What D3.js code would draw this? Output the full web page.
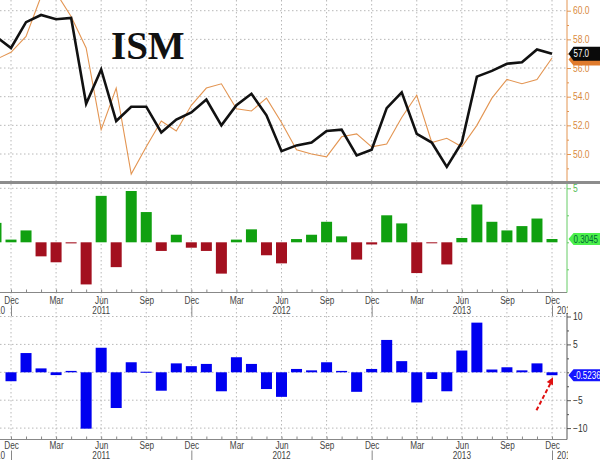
<!DOCTYPE html>
<html><head><meta charset="utf-8">
<script src="https://cdn.jsdelivr.net/npm/d3@7"></script>
<style>body{margin:0;background:#fff}svg{display:block}</style>
</head><body>
<script>
const months = ["2010-11","2010-12",
 "2011-01","2011-02","2011-03","2011-04","2011-05","2011-06","2011-07","2011-08","2011-09","2011-10","2011-11","2011-12",
 "2012-01","2012-02","2012-03","2012-04","2012-05","2012-06","2012-07","2012-08","2012-09","2012-10","2012-11","2012-12",
 "2013-01","2013-02","2013-03","2013-04","2013-05","2013-06","2013-07","2013-08","2013-09","2013-10","2013-11","2013-12"];
const ismValues = [58.2,57.4,
 59.2,59.7,59.4,59.5,53.5,55.9,52.3,53.3,53.3,51.5,52.4,52.9,
 53.8,52.0,53.4,54.2,52.7,50.2,50.6,50.8,51.6,51.7,49.9,50.3,
 53.2,54.3,51.4,50.8,49.1,50.8,55.4,55.8,56.3,56.4,57.3,57.0];
const compareValues = [56.6,57.1,
 58.2,61.0,61.25,59.6,57.4,51.7,54.6,48.6,50.5,52.3,51.6,53.4,
 54.6,54.9,53.15,53.0,53.9,52.2,50.3,50.0,49.8,51.2,51.4,50.5,
 50.7,52.55,54.1,50.8,51.1,50.5,52.0,53.9,55.2,54.9,55.2,56.7];
const spreadValues = [1.8,0.25,
 1.1,-1.3,-1.85,-0.1,-3.9,4.3,-2.3,4.75,2.8,-0.8,0.7,-0.5,
 -0.8,-2.9,0.25,1.2,-1.2,-1.95,0.3,0.7,1.9,0.55,-1.6,-0.2,
 2.5,1.75,-2.85,-0.05,-2.05,0.4,3.5,1.9,1.1,1.5,2.2,0.3045];
const changeValues = [null,-1.6,
 3.45,0.7,-0.5,0.25,-10.1,4.4,-6.4,1.8,0.1,-3.3,1.6,1.1,
 1.5,-3.4,2.7,1.5,-3.0,-4.4,0.6,0.35,1.8,0.25,-3.5,0.6,
 5.8,2.0,-5.4,-1.2,-3.4,3.9,8.9,0.5,0.9,0.35,1.6,-0.5236];
const topTicks = [50,52,54,56,58,60];
const topMinor = [49,51,53,55,57,59];
const midTicks = [5];
const midMinor = [-2.5,0,2.5];
const botTicks = [10,5,-5,-10];
const botMinor = [-7.5,-2.5,0,2.5,7.5];
const monthNames = ["Jan","Feb","Mar","Apr","May","Jun","Jul","Aug","Sep","Oct","Nov","Dec"];
const yearLabels = [{year:"2010", at:"2010-06"},{year:"2011", at:"2011-06"},{year:"2012", at:"2012-06"},{year:"2013", at:"2013-06"},{year:"2014", at:"2014-06"}];
const titleText = "ISM";
const lastTop = "57.0", lastTopCompare = 56.7, lastMid = "0.3045", lastBot = "-0.5236";

const W = 600, H = 460, RX = 567;
const FONT = "'Liberation Sans Narrow','Liberation Sans',sans-serif";
const svg = d3.select("body").append("svg").attr("width", W).attr("height", H)
  .style("font-family", FONT);

function condense(sel, f) {
  sel.each(function () {
    const w = this.getComputedTextLength();
    d3.select(this).attr("textLength", w * f).attr("lengthAdjust", "spacingAndGlyphs");
  });
}

const idx = m => { const [y, mo] = m.split("-").map(Number); return (y - 2010) * 12 + mo - 12; }; // Dec 2010 -> 0
const data = months.map((m, i) => ({m, k: idx(m), ism: ismValues[i], cmp: compareValues[i], spr: spreadValues[i], chg: changeValues[i]}));
const x = d3.scaleLinear().domain([0, 36]).range([11, 552]);

const yTop = d3.scaleLinear().domain([50, 60]).range([154, 10.7]);
const yMid = d3.scaleLinear().domain([0, 5]).range([242.3, 188.3]);
const yBot = d3.scaleLinear().domain([0, 10]).range([372.3, 316.5]);

const defs = svg.append("defs");
defs.append("clipPath").attr("id","cTop").append("rect").attr("x",0).attr("y",0).attr("width",RX).attr("height",181);
defs.append("clipPath").attr("id","cMid").append("rect").attr("x",0).attr("y",184).attr("width",RX).attr("height",108.5);
defs.append("clipPath").attr("id","cBot").append("rect").attr("x",0).attr("y",313).attr("width",RX).attr("height",126.5);
defs.append("clipPath").attr("id","cYear").append("rect").attr("x",0).attr("y",0).attr("width",RX+1).attr("height",H);

const dot = "1.5,2.5", gridCol = "#b8b8b8";
const quarterKs = d3.range(-3, 40).filter(k => ((k % 3) + 3) % 3 === 0 && x(k) >= 0 && x(k) <= RX);
svg.append("g").selectAll("line").data(quarterKs).join("line")
  .attr("x1", d => x(d)).attr("x2", d => x(d)).attr("y1", 0).attr("y2", 440)
  .attr("stroke", gridCol).attr("stroke-dasharray", dot);
const hgrid = (vals, ys) => svg.append("g").selectAll("line").data(vals).join("line")
  .attr("x1", 0).attr("x2", RX).attr("y1", d => ys(d)).attr("y2", d => ys(d))
  .attr("stroke", gridCol).attr("stroke-dasharray", dot);
hgrid(topTicks, yTop); hgrid([5], yMid); hgrid([10,5,0,-5,-10], yBot);

svg.append("text").attr("x", 111).attr("y", 59).text(titleText)
  .style("font-family","'Liberation Serif','Times New Roman',serif").style("font-weight","bold").style("font-size","39px").attr("fill","#111");

const gTop = svg.append("g").attr("clip-path","url(#cTop)");
gTop.append("path").datum(data).attr("fill","none").attr("stroke","#e39552").attr("stroke-width",1.1)
  .attr("d", d3.line().x(d => x(d.k)).y(d => yTop(d.cmp)));
gTop.append("path").datum(data).attr("fill","none").attr("stroke","#111").attr("stroke-width",2.6).attr("stroke-linejoin","miter")
  .attr("d", d3.line().x(d => x(d.k)).y(d => yTop(d.ism)));

svg.append("rect").attr("x",0).attr("y",181).attr("width",W).attr("height",3).attr("fill","#8c8c8c");

const bw = 11;
svg.append("g").attr("clip-path","url(#cMid)").selectAll("rect").data(data).join("rect")
  .attr("x", d => x(d.k) - bw/2).attr("width", bw)
  .attr("y", d => yMid(Math.max(0, d.spr))).attr("height", d => Math.max(1, Math.abs(yMid(d.spr) - yMid(0))))
  .attr("fill", d => d.spr >= 0 ? "#10a010" : "#a3101f");

svg.append("g").attr("clip-path","url(#cBot)").selectAll("rect").data(data.filter(d => d.chg !== null)).join("rect")
  .attr("x", d => x(d.k) - bw/2).attr("width", bw)
  .attr("y", d => yBot(Math.max(0, d.chg))).attr("height", d => Math.max(1, Math.abs(yBot(d.chg) - yBot(0))))
  .attr("fill", "#0000f0");

function xAxis(yLine, yLab) {
  const allKs = d3.range(-1, 38).filter(k => x(k) >= 0 && x(k) <= RX);
  const g = svg.append("g").attr("transform", `translate(0,${yLine})`);
  g.call(d3.axisBottom(x).tickValues(allKs).tickSize(-3).tickSizeOuter(0).tickFormat(""));
  g.select(".domain").attr("stroke","#888").attr("d", `M0,0H${RX}`);
  g.selectAll(".tick line").attr("stroke","#888");
  const lab = svg.append("g").attr("transform", `translate(0,${yLab})`);
  lab.call(d3.axisBottom(x).tickValues(quarterKs).tickSize(0).tickFormat(k => monthNames[((k + 11) % 12 + 12) % 12]));
  lab.select(".domain").remove();
  lab.selectAll("text").attr("dy", 0).attr("y", 0).style("font-size","10px").style("font-family",FONT).attr("fill","#444");
  condense(lab.selectAll("text"), 0.82);
  const yg = svg.append("g").attr("clip-path","url(#cYear)");
  yearLabels.forEach(yl => {
    const k = idx(yl.at);
    let px = x(k), anchor = "middle";
    if (px < 0) { px = x(0) - 6; anchor = "end"; }
    if (px > RX) { px = x(36) + 5; anchor = "start"; }
    const t = yg.append("text").attr("x", px).attr("y", yLab + 10).attr("text-anchor", anchor)
      .style("font-size","10px").attr("fill","#444").text(yl.year);
    condense(t, 0.82);
  });
  [0, 12, 24, 36].forEach(k => svg.append("line").attr("x1", x(k)+0.5).attr("x2", x(k)+0.5)
    .attr("y1", yLab + 2).attr("y2", yLab + 12.5).attr("stroke","#888"));
}
xAxis(292.5, 303.5);
xAxis(439.5, 448.5);

function rightAxis(ys, major, minor, color, fmt, y0, y1, labCol) {
  svg.append("line").attr("x1", RX).attr("x2", RX).attr("y1", y0).attr("y2", y1).attr("stroke", color);
  const g = svg.append("g").attr("transform", `translate(${RX},0)`);
  g.call(d3.axisRight(ys).tickValues(major).tickSize(4).tickPadding(2).tickFormat(fmt));
  g.select(".domain").remove();
  g.selectAll(".tick line").attr("stroke", color);
  g.selectAll("text").style("font-size","10px").style("font-family",FONT).attr("fill", labCol);
  condense(g.selectAll("text"), 0.85);
  const m = svg.append("g").attr("transform", `translate(${RX},0)`);
  m.call(d3.axisRight(ys).tickValues(minor).tickSize(2).tickFormat(""));
  m.select(".domain").remove();
  m.selectAll(".tick line").attr("stroke", color);
}
rightAxis(yTop, topTicks, topMinor, "#e39552", d3.format(".1f"), 0, 181, "#d98a40");
rightAxis(yMid, midTicks, midMinor, "#6c6", d3.format("d"), 184, 292.5, "#5b5");
rightAxis(yBot, botTicks, botMinor, "#555", d3.format("d"), 313, 439.5, "#333");

function flag(yc, h, fill, txt, txtCol) {
  const x0 = RX + 1.5, t = 5;
  svg.append("path").attr("d", `M${x0},${yc}L${x0+t},${yc-h/2}H${W}V${yc+h/2}H${x0+t}Z`).attr("fill", fill);
  if (txt) {
    const tx = svg.append("text").attr("x", x0 + t).attr("y", yc + 3.5).text(txt)
      .style("font-size","10px").attr("fill", txtCol);
    condense(tx, 0.8);
  }
}
flag(yTop(lastTopCompare) + 1.5, 12, "#e07b2c", null, null);
flag(yTop(+lastTop), 14, "#0a0a0a", lastTop, "#fff");
flag(yMid(+lastMid), 12, "#4cf04c", lastMid, "#063");
flag(yBot(+lastBot), 12, "#1515ff", lastBot, "#fff");

const ax0 = x(35) - 0.5, ay0 = yBot(-6.8), ax1 = x(36) + 1, ay1 = yBot(-0.9);
svg.append("line").attr("x1", ax0).attr("y1", ay0).attr("x2", ax1 - 2).attr("y2", ay1 + 5)
  .attr("stroke","#e01010").attr("stroke-width",2).attr("stroke-dasharray","4,2.5");
const ang = Math.atan2(ay1 - ay0, ax1 - ax0);
const hl = 7, hw = 3.5;
const bx = ax1 - hl*Math.cos(ang), by = ay1 - hl*Math.sin(ang);
svg.append("path").attr("d", `M${ax1},${ay1}L${bx - hw*Math.sin(ang)},${by + hw*Math.cos(ang)}L${bx + hw*Math.sin(ang)},${by - hw*Math.cos(ang)}Z`).attr("fill","#e01010");
</script>
</body></html>
